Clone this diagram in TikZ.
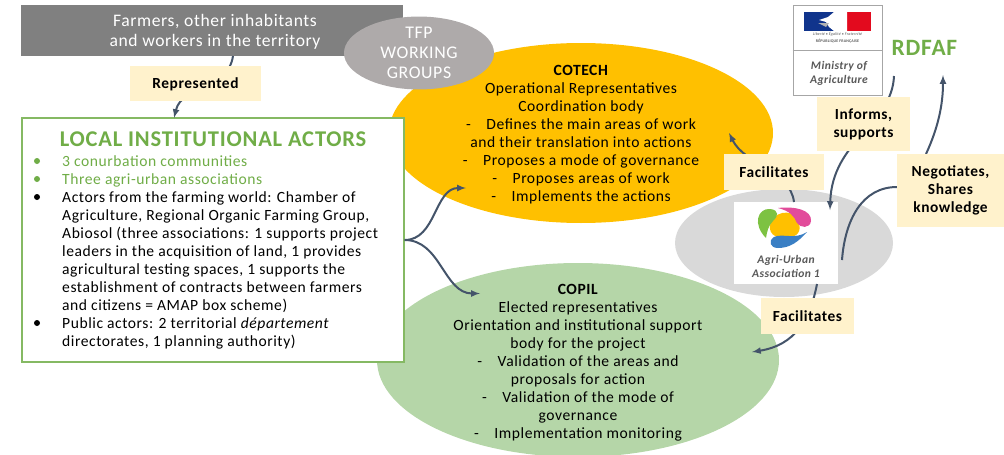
\documentclass[tikz,border=0pt]{standalone}
\usepackage{fontspec}
\setmainfont[LetterSpace=3.5]{Carlito}
\usetikzlibrary{positioning, shapes.geometric}
\definecolor{linkBlue}{HTML}{44546A}
\definecolor{noteYellow}{HTML}{FFF2CC}
\definecolor{actorGreen}{HTML}{70AD47}
\definecolor{copilGreen}{HTML}{B5D6A8}
\definecolor{cotechGold}{HTML}{FFC000}
\definecolor{tfpGrey}{HTML}{AEAAAA}
\definecolor{flagBlue}{HTML}{10348C}
\definecolor{flagRed}{HTML}{E30A1E}
\definecolor{logoGreen}{HTML}{7DC242}
\definecolor{logoPink}{HTML}{E24C9B}
\definecolor{logoBlue}{HTML}{3A7FC4}
\tikzset{
	body/.style={font=\fontsize{15.6}{18}\selectfont, align=center, inner sep=0pt},
	note/.style={fill=noteYellow, font=\fontsize{15.4}{18}\selectfont\bfseries, align=center, inner sep=0pt},
	link/.style={draw=linkBlue, line width=2pt, -latex},
	plain link/.style={draw=linkBlue, line width=2pt},
	blob/.style={ellipse, inner sep=0pt},
}
\begin{document}
\begin{tikzpicture}[x=1pt, y=-1pt, node distance=10pt]
	\useasboundingbox (0,0) rectangle (1004,455);
	\node[fill=black!50, minimum width=382pt, minimum height=51pt, inner sep=0pt] (farmers) at (212,30.5) {};
	\node[text=white, inner sep=0pt, font=\fontsize{17.6}{20}\selectfont, align=center] (farmersText) at (215,32) {Farmers, other inhabitants\\and workers in the territory};
	\node[blob, fill=cotechGold, minimum width=384pt, minimum height=180pt] (cotech) at (581,133) {};
	\node[body] (cotechText) at (581,134.5) {\textbf{COTECH}\\Operational Representatives\\Coordination body\\-\quad Defines the main areas of work\\and their translation into actions\\-\quad Proposes a mode of governance\\-\quad Proposes areas of work\\-\quad Implements the actions};
	\node[blob, fill=copilGreen, minimum width=402pt, minimum height=194pt] (copil) at (578,360) {};
	\node[body] (copilText) at (578,363) {\textbf{COPIL}\\Elected representatives\\Orientation and institutional support\\body for the project\\-\quad Validation of the areas and\\proposals for action\\-\quad Validation of the mode of\\governance\\-\quad Implementation monitoring};
	\node[blob, fill=black!15, minimum width=218pt, minimum height=108pt] (assocZone) at (784,243) {};
	\node[blob, fill=tfpGrey, text=white, minimum width=150pt, minimum height=71pt, font=\fontsize{17.8}{20}\selectfont, align=center] (tfp) at (419,53) {TFP\\WORKING\\GROUPS};
	\node[draw=actorGreen!85!white, line width=1.4pt, fill=white, minimum width=382pt, minimum height=244pt, inner sep=0pt] (actors) at (213,240) {};
	\node[text=actorGreen, font=\fontsize{22.5}{24}\selectfont\bfseries, inner sep=0pt] (actorsTitle) at (213,139) {LOCAL INSTITUTIONAL ACTORS};
	\node[anchor=west, body, align=left, text=actorGreen] (green) at (62,171) {3 conurbation communities\\Three agri-urban associations};
	\node[anchor=west, body, align=left] (others) at (62,270.5) {Actors from the farming world: Chamber of\\Agriculture, Regional Organic Farming Group,\\Abiosol (three associations: 1 supports project\\leaders in the acquisition of land, 1 provides\\agricultural testing spaces, 1 supports the\\establishment of contracts between farmers\\and citizens = AMAP box scheme)\\Public actors: 2 territorial \emph{département}\\directorates, 1 planning authority)};
	\foreach \name/\ypos/\col in {b1/161/actorGreen, b2/179/actorGreen, b3/197/black, b4/323/black}
		\node[circle, fill=\col, minimum size=6pt, inner sep=0pt] (\name) at (37,\ypos) {};
	\node[draw=black!35, line width=1pt, fill=white, minimum width=89pt, minimum height=90pt, inner sep=0pt] (ministry) at (837.5,50) {};
	\draw[black!35, line width=.8pt] (ministry.west) -- (ministry.east);
	\fill[flagBlue] (804,12) rectangle (834,31);
	\fill[flagRed] (847,12) rectangle (871,31);
	\fill[white] (834,12) -- (828,17) -- (819,20) -- (826,22) -- (829,27) -- (834,31) -- (847,31) -- (847,12) -- cycle;
	\fill[black!30] (818,23) -- (829,23) -- (826,27) -- cycle;
	\node[inner sep=0pt, font=\fontsize{4}{5}\selectfont\itshape, text=black!65] (motto) at (837.5,34.5) {Liberté \textbullet{} Égalité \textbullet{} Fraternité};
	\node[inner sep=0pt, font=\fontsize{4}{5}\selectfont\bfseries, text=black!65] (republic) at (837.5,41.5) {RÉPUBLIQUE FRANÇAISE};
	\node[inner sep=0pt, font=\fontsize{11.6}{14}\selectfont\itshape\bfseries, text=black!65, align=center] (ministryName) at (839,73) {Ministry of\\Agriculture};
	\node[right=9pt of ministry.east, text=actorGreen, font=\fontsize{23.4}{28}\selectfont\bfseries, inner sep=0pt, yshift=2pt] (rdfaf) {RDFAF};
	\node[fill=white, minimum width=104pt, minimum height=82pt, inner sep=0pt] (assoc) at (786,243) {};
	\fill[cotechGold] (770,225) .. controls (772,212) and (792,208) .. (797,219) .. controls (802,228) and (800,236) .. (790,237) .. controls (780,240) and (768,236) .. (770,225) -- cycle;
	\fill[logoGreen] (766,238) .. controls (752,224) and (758,208) .. (770,209) .. controls (780,210) and (778,217) .. (773,221) .. controls (768,226) and (767,232) .. (766,238) -- cycle;
	\fill[logoPink] (778,208) .. controls (795,206) and (812,210) .. (811,221) .. controls (810,229) and (800,228) .. (797,223) .. controls (794,216) and (790,211) .. (778,208) -- cycle;
	\fill[logoBlue] (807,232) .. controls (798,242) and (790,248) .. (778,248) .. controls (770,248) and (768,241) .. (774,237) .. controls (782,233) and (795,240) .. (807,232) -- cycle;
	\node[inner sep=0pt, font=\fontsize{11.6}{13.5}\selectfont\itshape\bfseries, text=black!65, align=center] (assocName) at (786,266.5) {Agri-Urban\\Association 1};
	\coordinate (cotechIn) at (466,188);
	\coordinate (copilIn) at (480,293.5);
	\draw[link] (actors.east) to[out=0, in=180] (cotechIn);
	\draw[link] (actors.east) to[out=0, in=180] (copilIn);
	\coordinate (farmersOut) at (233,56);
	\coordinate (actorsIn) at (174,118);
	\draw[link] (farmersOut) .. controls (228,90) and (182,85) .. (actorsIn);
	\coordinate (assocTop) at (794,202);
	\coordinate (cotechBack) at (729,133);
	\draw[link] (assocTop) .. controls (790,170) and (745,165) .. (cotechBack);
	\coordinate (ministryOut) at (894,76);
	\coordinate (assocIn) at (830,210);
	\draw[link] (ministryOut) .. controls (892,125) and (832,140) .. (assocIn);
	\coordinate (assocRight) at (842,260);
	\draw[plain link] (assocRight) .. controls (845,220) and (862,187) .. (897,187);
	\coordinate (negotTop) at (926,154);
	\coordinate (rdfafIn) at (943,75);
	\draw[link] (negotTop) .. controls (938,128) and (943,105) .. (rdfafIn);
	\coordinate (assocBottom) at (817,284);
	\coordinate (copilBack) at (752,352);
	\draw[link] (assocBottom) .. controls (810,320) and (795,345) .. (copilBack);
	\node[note, below=10pt of farmers, xshift=-16.5pt, minimum width=131pt, minimum height=35pt] (repr) {Represented};
	\node[note, minimum width=100pt, minimum height=36pt] (facil1) at (774,172) {Facilitates};
	\node[note, minimum width=93pt, minimum height=54pt] (informs) at (863.5,124) {Informs,\\supports};
	\node[note, minimum width=107pt, minimum height=73pt] (negot) at (950.5,190.5) {Negotiates,\\Shares\\knowledge};
	\node[note, minimum width=93pt, minimum height=36pt] (facil2) at (807.5,316) {Facilitates};
\end{tikzpicture}
\end{document}
